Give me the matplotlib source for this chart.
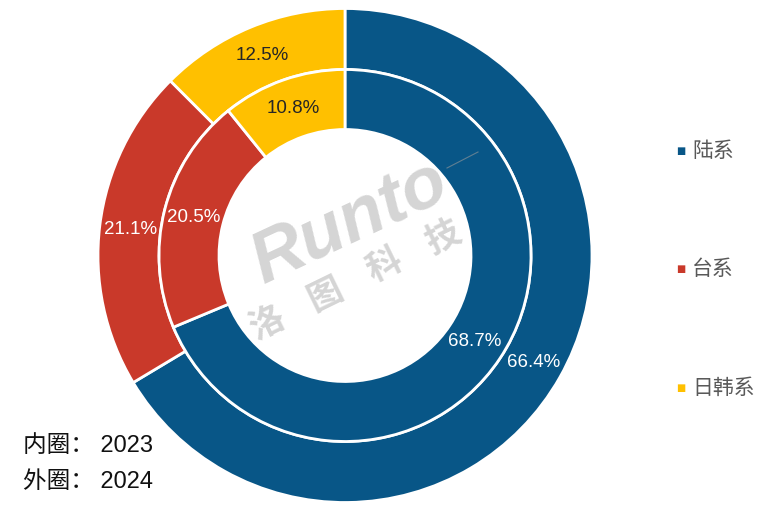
import numpy as np
import matplotlib
matplotlib.use('Agg')
import matplotlib.pyplot as plt

plt.rcParams['font.family'] = ['Liberation Sans', 'Noto Sans CJK SC', 'DejaVu Sans']

# data
categories = ['陆系', '台系', '日韩系']
outer_2024 = [66.4, 21.1, 12.5]
inner_2023 = [68.7, 20.5, 10.8]
colors = ['#085687', '#C9392A', '#FFC000']
label_colors = ['white', 'white', '#262626']

W, H = 783, 511
cx, cy = 345, 255.5

fig = plt.figure(figsize=(W / 100, H / 100), dpi=100)
ax = fig.add_axes([0, 0, 1, 1])
ax.set_aspect('equal')
ax.axis('off')


def px(x, y):
    # pixel position -> data coords (center of the rings is the origin)
    return x - cx, cy - y


r_out, r_mid, r_in = 247, 186, 126

wedges_o, _, texts_o = ax.pie(outer_2024, radius=r_out, colors=colors, startangle=90,
                              counterclock=False, autopct='%.1f%%',
                              pctdistance=(r_out + r_mid) / 2 / r_out,
                              wedgeprops=dict(width=r_out - r_mid, edgecolor='white', linewidth=2))
wedges_i, _, texts_i = ax.pie(inner_2023, radius=r_mid, colors=colors, startangle=90,
                              counterclock=False, autopct='%.1f%%',
                              pctdistance=(r_mid + r_in) / 2 / r_mid,
                              wedgeprops=dict(width=r_mid - r_in, edgecolor='white', linewidth=2))
for texts in (texts_o, texts_i):
    for t, c in zip(texts, label_colors):
        t.set_color(c)
        t.set_fontsize(13.5)

ax.set_xlim(-cx, W - cx)
ax.set_ylim(-(H - cy), cy)

# watermark
wm = dict(color='#9a9a9a', alpha=0.42, zorder=5, ha='center', va='center')
ax.text(*px(350, 222), 'Runto', fontsize=52, fontweight='bold', style='italic',
        rotation=25, **wm)
ax.plot(*zip(px(447, 168), px(478, 152)), color='#9a9a9a', alpha=0.6, lw=0.8, zorder=5)
start, end = np.array([267, 323]), np.array([443, 237])
for k, ch in enumerate('洛图科技'):
    p = start + (end - start) * k / 3
    ax.text(*px(*p), ch, fontsize=25, fontweight='bold', family=['Noto Sans CJK SC'],
            rotation=26, **wm)

# legend
leg_y = [150.7, 269, 388]
for name, c, y in zip(categories, colors, leg_y):
    fig.text(681 / W, 1 - y / H, '■', color=c, fontsize=7, ha='center', va='center',
             family=['DejaVu Sans'])
    fig.text(692 / W, 1 - y / H, name, color='#595959', fontsize=15, ha='left', va='center',
             family=['Noto Sans CJK SC'])

fig.text(23 / W, 1 - 451.5 / H, '内圈： 2023', fontsize=17, ha='left', va='baseline',
         color='#111111')
fig.text(23 / W, 1 - 488 / H, '外圈： 2024', fontsize=17, ha='left', va='baseline',
         color='#111111')

fig.savefig('out.png', dpi=100)
